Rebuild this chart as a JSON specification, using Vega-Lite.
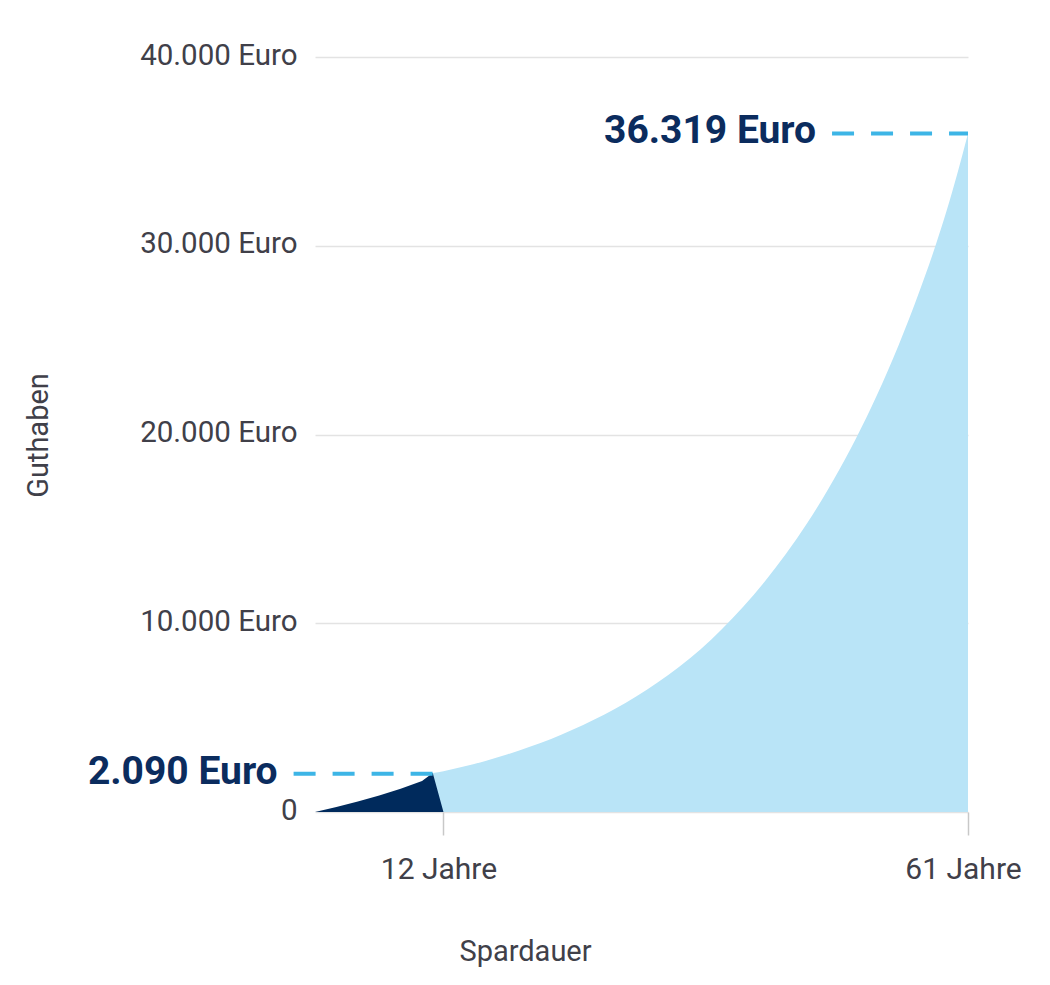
{
  "$schema": "https://vega.github.io/schema/vega-lite/v6.json",
  "width": 653,
  "height": 755,
  "autosize": {"type": "none"},
  "padding": {"left": 315, "top": 57, "right": 82, "bottom": 173},
  "background": "white",
  "config": {"view": {"stroke": null}, "font": "Roboto"},
  "datasets": {
    "light": [
      {"year": 11.0, "value": 2060, "base": 2060},
      {"year": 12, "value": 2160, "base": 0},
      {"year": 14, "value": 2420, "base": 0},
      {"year": 16, "value": 2720, "base": 0},
      {"year": 18, "value": 3060, "base": 0},
      {"year": 20, "value": 3440, "base": 0},
      {"year": 22, "value": 3860, "base": 0},
      {"year": 24, "value": 4340, "base": 0},
      {"year": 26, "value": 4870, "base": 0},
      {"year": 28, "value": 5460, "base": 0},
      {"year": 30, "value": 6120, "base": 0},
      {"year": 32, "value": 6860, "base": 0},
      {"year": 34, "value": 7680, "base": 0},
      {"year": 36, "value": 8610, "base": 0},
      {"year": 38, "value": 9680, "base": 0},
      {"year": 40, "value": 10870, "base": 0},
      {"year": 42, "value": 12200, "base": 0},
      {"year": 44, "value": 13680, "base": 0},
      {"year": 46, "value": 15320, "base": 0},
      {"year": 48, "value": 17160, "base": 0},
      {"year": 50, "value": 19200, "base": 0},
      {"year": 52, "value": 21480, "base": 0},
      {"year": 54, "value": 24030, "base": 0},
      {"year": 56, "value": 26880, "base": 0},
      {"year": 57, "value": 28420, "base": 0},
      {"year": 58, "value": 30060, "base": 0},
      {"year": 59, "value": 31850, "base": 0},
      {"year": 60, "value": 33820, "base": 0},
      {"year": 61, "value": 35950, "base": 0}
    ],
    "dark": [
      {"year": 0, "value": 0},
      {"year": 2, "value": 260},
      {"year": 4, "value": 560},
      {"year": 6, "value": 880},
      {"year": 8, "value": 1230},
      {"year": 10, "value": 1640},
      {"year": 11.0, "value": 2060},
      {"year": 12, "value": 0}
    ],
    "labels": [
      {"label": "36.319 Euro", "year": 48.3, "end": 61, "value": 35950},
      {"label": "2.090 Euro", "year": -2.0, "end": 11.0, "value": 2030}
    ]
  },
  "layer": [
    {
      "data": {"name": "light"},
      "mark": {"type": "area", "color": "#b9e4f7", "interpolate": "monotone"},
      "encoding": {
        "x": {
          "field": "year",
          "type": "quantitative",
          "scale": {"domain": [0, 61], "nice": false, "zero": false},
          "title": "Spardauer",
          "axis": {
            "values": [12, 61],
            "labelExpr": "datum.value + ' Jahre'",
            "labelFlush": false,
            "labelOffset": -5,
            "grid": false,
            "domain": false,
            "tickColor": "#c8c8c8",
            "tickWidth": 1.5,
            "tickSize": 23,
            "labelPadding": 43,
            "labelBaseline": "alphabetic",
            "labelFontSize": 30,
            "labelColor": "#404049",
            "labelFont": "Roboto",
            "titleFont": "Roboto",
            "titleFontSize": 29,
            "titleFontWeight": "normal",
            "titleColor": "#404049",
            "titleBaseline": "alphabetic",
            "titleX": 210,
            "titleY": 148
          }
        },
        "y": {
          "field": "value",
          "type": "quantitative",
          "scale": {"domain": [0, 40000], "nice": false},
          "title": "Guthaben",
          "axis": {
            "values": [0, 10000, 20000, 30000, 40000],
            "labelExpr": "datum.value == 0 ? '0' : replace(format(datum.value, ',d'), ',', '.') + ' Euro'",
            "domain": false,
            "ticks": false,
            "tickSize": 0,
            "labelPadding": 18,
            "labelOffset": -2,
            "labelFontSize": 29.5,
            "labelColor": "#404049",
            "labelFont": "Roboto",
            "gridColor": "#e3e3e3",
            "gridWidth": 1.5,
            "titleFont": "Roboto",
            "titleFontSize": 29,
            "titleFontWeight": "normal",
            "titleColor": "#404049",
            "titleAngle": -90,
            "titleBaseline": "alphabetic",
            "titleX": -268,
            "titleY": 378
          }
        },
        "y2": {"field": "base"}
      }
    },
    {
      "data": {"name": "dark"},
      "mark": {"type": "area", "color": "#002a5c"},
      "encoding": {
        "x": {"field": "year", "type": "quantitative"},
        "y": {"field": "value", "type": "quantitative"}
      }
    },
    {
      "data": {"name": "labels"},
      "mark": {"type": "rule", "color": "#3db5e6", "strokeWidth": 4, "strokeDash": [22, 17]},
      "encoding": {
        "x": {"field": "year", "type": "quantitative"},
        "x2": {"field": "end"},
        "y": {"field": "value", "type": "quantitative"}
      }
    },
    {
      "data": {"name": "labels"},
      "mark": {
        "type": "text",
        "align": "right",
        "baseline": "middle",
        "dx": -16,
        "dy": -2,
        "font": "Roboto",
        "fontSize": 39,
        "fontWeight": "bold",
        "color": "#0b2c5e"
      },
      "encoding": {
        "x": {"field": "year", "type": "quantitative"},
        "y": {"field": "value", "type": "quantitative"},
        "text": {"field": "label"}
      }
    }
  ]
}
